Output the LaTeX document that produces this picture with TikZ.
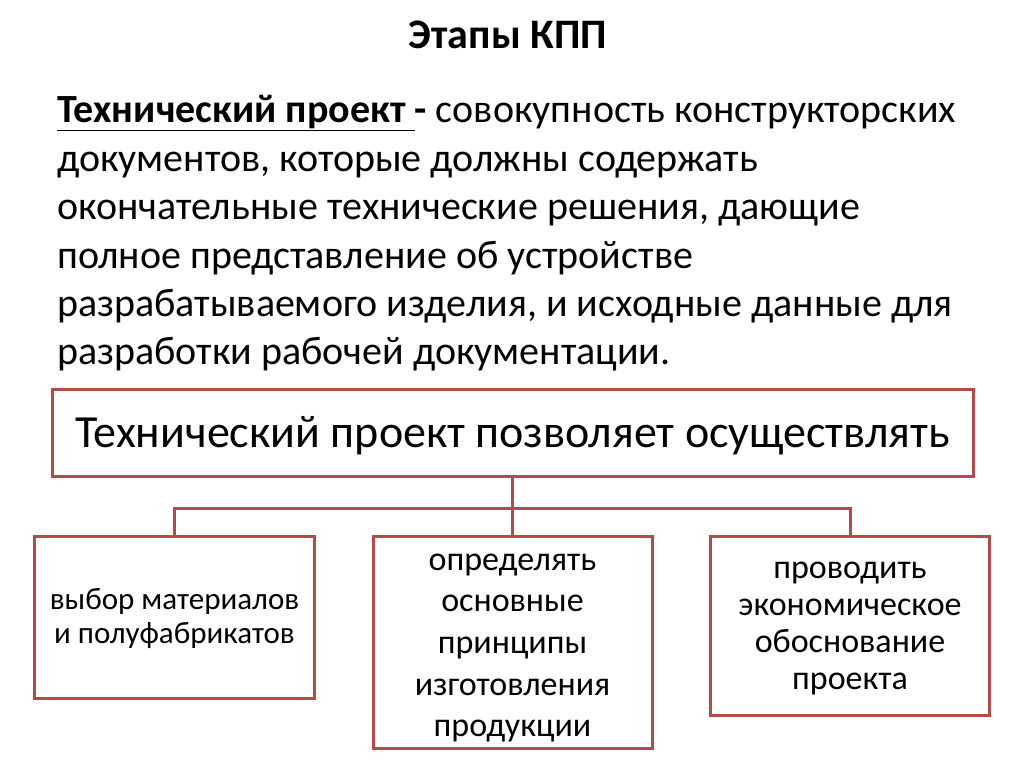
\documentclass[tikz,border=0pt]{standalone}
\usepackage{fontspec}
\setmainfont{Carlito}
\definecolor{boxred}{RGB}{180,75,72}
\begin{document}
\begin{tikzpicture}[x=1pt,y=-1pt,
  box/.style={draw=boxred,line width=3pt,fill=white,inner sep=0pt,align=flush center},
  conn/.style={draw=boxred,line width=3pt}]
\useasboundingbox[fill=white] (0,0) rectangle (1024,767);
\node[anchor=base,font=\fontsize{42}{46}\selectfont\bfseries] (title) at (508,49) {Этапы КПП};
\node[anchor=base west,text width=980,align=flush left,inner sep=0pt,
  font=\fontsize{40}{48.4}\selectfont] (para) at (57,123)
  {\textbf{\underline{Технический проект }-} совокупность конструкторских\\
   документов, которые должны содержать\\
   окончательные технические решения, дающие\\
   полное представление об устройстве\\
   разрабатываемого изделия, и исходные данные для\\
   разработки рабочей документации.};
\node[box,minimum width=921,minimum height=87,text height=29,text depth=0,
  font=\fontsize{46}{50}\selectfont] (top) at (512.5,432.5)
  {Технический проект позволяет осуществлять};
\node[box,minimum width=280,minimum height=162,text width=280,text height=73,text depth=89,
  font=\fontsize{31}{34}\selectfont] (b1) at (174.5,617)
  {выбор материалов\\и полуфабрикатов};
\node[box,minimum width=279,minimum height=212,text width=279,text height=34,text depth=178,
  font=\fontsize{34}{41.7}\selectfont] (b2) at (512.5,642)
  {определять\\основные\\принципы\\изготовления\\продукции};
\node[box,minimum width=279,minimum height=179,text width=279,text height=42,text depth=137,
  font=\fontsize{34}{37.3}\selectfont] (b3) at (850,625.5)
  {проводить\\экономическое\\обоснование\\проекта};
\coordinate (j) at ([yshift=-31pt]top.south);
\draw[conn] (top.south) -- (j);
\draw[conn] (b1.north) |- (j) -| (b3.north);
\draw[conn] (j) -- (b2.north);
\end{tikzpicture}
\end{document}
